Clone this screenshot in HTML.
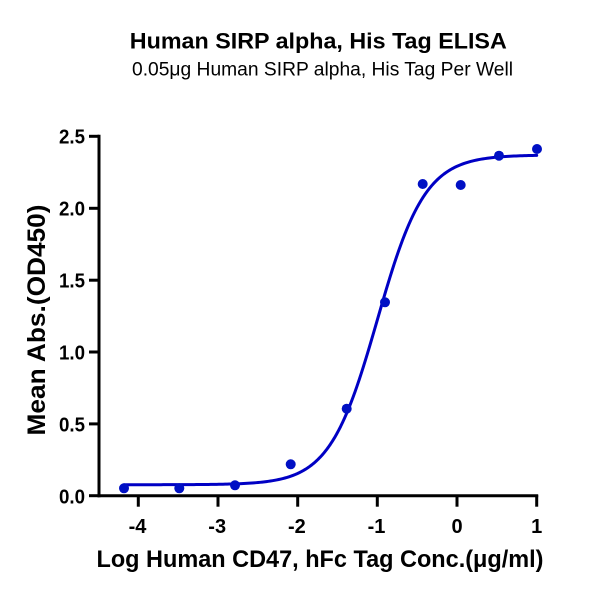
<!DOCTYPE html>
<html>
<head>
<meta charset="utf-8">
<style>
  html, body { margin: 0; padding: 0; background: #ffffff; }
  svg { display: block; }
  text { font-family: "Liberation Sans", Arial, sans-serif; fill: #000; }
  .b { font-weight: bold; }
</style>
</head>
<body>
<svg id="chart" width="600" height="600" viewBox="0 0 600 600" xmlns="http://www.w3.org/2000/svg">
  <rect x="0" y="0" width="600" height="600" fill="#ffffff"/>

  <!-- Titles -->
  <text class="b" x="318.3" y="48.5" font-size="22" text-anchor="middle" textLength="377" lengthAdjust="spacingAndGlyphs">Human SIRP alpha, His Tag ELISA</text>
  <text x="322.5" y="75.5" font-size="19" text-anchor="middle" textLength="381" lengthAdjust="spacingAndGlyphs">0.05μg Human SIRP alpha, His Tag Per Well</text>

  <!-- Axes -->
  <line x1="99" y1="134.8" x2="99" y2="497.2" stroke="#000" stroke-width="3"/>
  <line x1="97.5" y1="495.7" x2="538.2" y2="495.7" stroke="#000" stroke-width="3"/>

  <!-- Y ticks -->
  <g stroke="#000" stroke-width="3">
    <line x1="89" y1="495.7" x2="99" y2="495.7"/>
    <line x1="89" y1="423.9" x2="99" y2="423.9"/>
    <line x1="89" y1="352.0" x2="99" y2="352.0"/>
    <line x1="89" y1="280.2" x2="99" y2="280.2"/>
    <line x1="89" y1="208.3" x2="99" y2="208.3"/>
    <line x1="89" y1="136.3" x2="99" y2="136.3"/>
  </g>
  <g font-size="20" text-anchor="end">
    <text class="b" x="85" y="503.5" textLength="26" lengthAdjust="spacingAndGlyphs">0.0</text>
    <text class="b" x="85" y="431.5" textLength="26" lengthAdjust="spacingAndGlyphs">0.5</text>
    <text class="b" x="85" y="359.5" textLength="26" lengthAdjust="spacingAndGlyphs">1.0</text>
    <text class="b" x="85" y="287.5" textLength="26" lengthAdjust="spacingAndGlyphs">1.5</text>
    <text class="b" x="85" y="215.5" textLength="26" lengthAdjust="spacingAndGlyphs">2.0</text>
    <text class="b" x="85" y="143.5" textLength="26" lengthAdjust="spacingAndGlyphs">2.5</text>
  </g>

  <!-- X ticks -->
  <g stroke="#000" stroke-width="3">
    <line x1="138.3" y1="495" x2="138.3" y2="506.7"/>
    <line x1="218.0" y1="495" x2="218.0" y2="506.7"/>
    <line x1="297.7" y1="495" x2="297.7" y2="506.7"/>
    <line x1="377.3" y1="495" x2="377.3" y2="506.7"/>
    <line x1="457.0" y1="495" x2="457.0" y2="506.7"/>
    <line x1="536.7" y1="495" x2="536.7" y2="506.7"/>
  </g>
  <g font-size="20" text-anchor="middle">
    <text class="b" x="137.5" y="533">-4</text>
    <text class="b" x="217.2" y="533">-3</text>
    <text class="b" x="296.9" y="533">-2</text>
    <text class="b" x="376.5" y="533">-1</text>
    <text class="b" x="457.0" y="533">0</text>
    <text class="b" x="536.7" y="533">1</text>
  </g>

  <!-- Axis titles -->
  <text class="b" x="320" y="567" font-size="24.5" text-anchor="middle" textLength="447" lengthAdjust="spacingAndGlyphs">Log Human CD47, hFc Tag Conc.(μg/ml)</text>
  <text class="b" transform="translate(45,320) rotate(-90)" x="0" y="0" font-size="25" text-anchor="middle" textLength="231" lengthAdjust="spacingAndGlyphs">Mean Abs.(OD450)</text>

  <!-- Fitted curve -->
  <path id="curve" d="" fill="none" stroke="#0000c4" stroke-width="3" stroke-linejoin="round" stroke-linecap="round"/>

  <!-- Data points -->
  <g fill="#0010c4">
    <circle cx="124" cy="488.3" r="5"/>
    <circle cx="179.3" cy="488.3" r="5"/>
    <circle cx="235" cy="485.3" r="5"/>
    <circle cx="290.7" cy="464.3" r="5"/>
    <circle cx="346.7" cy="408.7" r="5"/>
    <circle cx="385" cy="302.3" r="5"/>
    <circle cx="422.7" cy="184" r="5"/>
    <circle cx="460.7" cy="185" r="5"/>
    <circle cx="499" cy="155.7" r="5"/>
    <circle cx="537" cy="149" r="5"/>
  </g>
</svg>
<script>
(function(){
  var B=0.075, T=2.37, c=-1.0, h=1.45;
  function px(x){ return 138.3 + (x+4)*79.68; }
  function py(y){ return 495.5 - y*143.68; }
  var d="";
  var x0=-4.18, x1=1.0, n=200;
  for(var i=0;i<=n;i++){
    var x=x0+(x1-x0)*i/n;
    var y=B+(T-B)/(1+Math.pow(10,h*(c-x)));
    d+=(i===0?"M":"L")+px(x).toFixed(2)+","+py(y).toFixed(2);
  }
  document.getElementById("curve").setAttribute("d",d);
})();
</script>
</body>
</html>
